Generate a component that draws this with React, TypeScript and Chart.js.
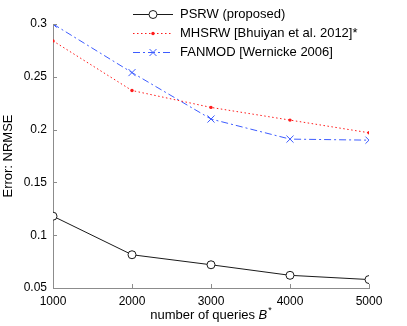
import React, { useEffect, useRef } from "react";
import { Chart, registerables } from "chart.js";
Chart.register(...registerables);

const queries = [1000, 2000, 3000, 4000, 5000];
const psrw = [0.118, 0.0815, 0.072, 0.062, 0.058];
const mhsrw = [0.284, 0.237, 0.221, 0.209, 0.197];
const fanmod = [0.3, 0.254, 0.21, 0.191, 0.19];
const seriesNames = ["PSRW (proposed)", "MHSRW [Bhuiyan et al. 2012]*", "FANMOD [Wernicke 2006]"];
const xTitleText = "number of queries ";
const xTitleVar = "B";
const xTitleSup = "*";
const yTitleText = "Error: NRMSE";

const FONT = "'Liberation Sans', Arial, Helvetica, sans-serif";
const AXIS_COLOR = "#8c8c8c";
const BLACK = "#1a1a1a";
const RED = "#ff1a1a";
const BLUE = "#3d5cff";

type Style = { color: string; dash: number[]; marker: string };
const styles: Style[] = [
  { color: BLACK, dash: [], marker: "circle" },
  { color: RED, dash: [1.5, 2.5], marker: "dot" },
  { color: BLUE, dash: [7, 3, 2, 3], marker: "x" },
];

function drawMarker(ctx: CanvasRenderingContext2D, m: string, x: number, y: number, color: string) {
  ctx.save();
  ctx.setLineDash([]);
  ctx.strokeStyle = color;
  ctx.fillStyle = color;
  ctx.lineWidth = 1;
  if (m === "circle") {
    ctx.beginPath();
    ctx.arc(x, y, 4, 0, Math.PI * 2);
    ctx.fillStyle = "#fff";
    ctx.fill();
    ctx.stroke();
  } else if (m === "dot") {
    ctx.beginPath();
    ctx.arc(x, y, 1.7, 0, Math.PI * 2);
    ctx.fill();
  } else {
    const s = 3.5;
    ctx.beginPath();
    ctx.moveTo(x - s, y - s);
    ctx.lineTo(x + s, y + s);
    ctx.moveTo(x + s, y - s);
    ctx.lineTo(x - s, y + s);
    ctx.stroke();
  }
  ctx.restore();
}

const overlay = {
  id: "overlay",
  afterDraw(chart: any) {
    const ctx: CanvasRenderingContext2D = chart.ctx;
    const { left, right, top, bottom } = chart.chartArea;
    const xs = chart.scales.x;
    const ys = chart.scales.y;
    ctx.save();
    // inward ticks
    ctx.strokeStyle = AXIS_COLOR;
    ctx.lineWidth = 1;
    ctx.beginPath();
    ys.ticks.forEach((t: any) => {
      const py = Math.round(ys.getPixelForValue(t.value)) + 0.5;
      ctx.moveTo(left, py);
      ctx.lineTo(left + 4, py);
    });
    xs.ticks.forEach((t: any) => {
      const px = Math.round(xs.getPixelForValue(t.value)) + 0.5;
      ctx.moveTo(px, bottom);
      ctx.lineTo(px, bottom - 4);
    });
    ctx.stroke();

    // legend
    const lx0 = left + 80;
    const lx1 = left + 120;
    const rowY = [top - 10, top + 9, top + 28];
    ctx.font = `13px ${FONT}`;
    ctx.textBaseline = "middle";
    ctx.textAlign = "left";
    styles.forEach((s, i) => {
      const y = rowY[i] + 0.5;
      ctx.save();
      ctx.strokeStyle = s.color;
      ctx.lineWidth = 1;
      ctx.setLineDash(s.dash);
      ctx.beginPath();
      ctx.moveTo(lx0, y);
      ctx.lineTo(lx1, y);
      ctx.stroke();
      ctx.restore();
      drawMarker(ctx, s.marker, (lx0 + lx1) / 2, y, s.color);
      ctx.fillStyle = "#000";
      ctx.fillText(seriesNames[i], lx1 + 7, y);
    });

    // x title
    ctx.fillStyle = "#000";
    ctx.textBaseline = "middle";
    const f1 = `13px ${FONT}`;
    const f2 = `italic 13px ${FONT}`;
    const f3 = `9px ${FONT}`;
    ctx.font = f1;
    const w1 = ctx.measureText(xTitleText).width;
    ctx.font = f2;
    const w2 = ctx.measureText(xTitleVar).width;
    ctx.font = f3;
    const w3 = ctx.measureText(xTitleSup).width;
    const total = w1 + w2 + w3 + 1;
    let x = (left + right) / 2 - total / 2;
    const ty = bottom + 27;
    ctx.font = f1;
    ctx.fillText(xTitleText, x, ty);
    x += w1;
    ctx.font = f2;
    ctx.fillText(xTitleVar, x, ty);
    x += w2 + 1;
    ctx.font = f3;
    ctx.fillText(xTitleSup, x, ty - 4);

    // y title
    ctx.save();
    ctx.translate(8, (top + bottom) / 2);
    ctx.rotate(-Math.PI / 2);
    ctx.font = `13px ${FONT}`;
    ctx.textAlign = "center";
    ctx.textBaseline = "middle";
    ctx.fillText(yTitleText, 0, 0);
    ctx.restore();

    ctx.restore();
  },
};

export default function App() {
  const ref = useRef<HTMLCanvasElement>(null);
  useEffect(() => {
    if (!ref.current) return;
    const mk = (vals: number[]) => queries.map((q, i) => ({ x: q, y: vals[i] }));
    const chart = new Chart(ref.current, {
      type: "line",
      data: {
        datasets: [
          {
            label: seriesNames[0],
            data: mk(psrw),
            borderColor: BLACK,
            borderWidth: 1,
            pointStyle: "circle",
            pointRadius: 4,
            pointBorderWidth: 1,
            pointBackgroundColor: "#fff",
            pointBorderColor: BLACK,
            tension: 0,
          },
          {
            label: seriesNames[1],
            data: mk(mhsrw),
            borderColor: RED,
            borderWidth: 1,
            borderDash: [1.5, 2.5],
            pointStyle: "circle",
            pointRadius: 1.7,
            pointBorderWidth: 0,
            pointBackgroundColor: RED,
            pointBorderColor: RED,
            tension: 0,
          },
          {
            label: seriesNames[2],
            data: mk(fanmod),
            borderColor: BLUE,
            borderWidth: 1,
            borderDash: [7, 3, 2, 3],
            pointStyle: "crossRot",
            pointRadius: 5,
            pointBorderWidth: 1,
            pointBorderColor: BLUE,
            pointBackgroundColor: BLUE,
            tension: 0,
          },
        ],
      },
      options: {
        responsive: false,
        animation: false,
        layout: { padding: { top: 24, right: 38, left: 0, bottom: 0 } },
        plugins: { legend: { display: false }, tooltip: { enabled: false } },
        scales: {
          x: {
            type: "linear",
            min: 1000,
            max: 5000,
            grid: { display: false, drawTicks: false },
            border: { display: true, color: AXIS_COLOR, width: 1 },
            ticks: {
              stepSize: 1000,
              color: "#000",
              font: { family: FONT, size: 12 },
              padding: 6,
              maxRotation: 0,
              callback: (v: any) => String(v),
            },
            afterFit: (s: any) => {
              s.height = 38;
            },
          },
          y: {
            type: "linear",
            min: 0.05,
            max: 0.3,
            grid: { display: false, drawTicks: false },
            border: { display: true, color: AXIS_COLOR, width: 1 },
            ticks: {
              stepSize: 0.05,
              color: "#000",
              font: { family: FONT, size: 12 },
              padding: 6,
              callback: (v: any) => String(Number(Number(v).toFixed(2))),
            },
            afterFit: (s: any) => {
              s.width = 53;
            },
          },
        },
      },
      plugins: [overlay],
    });
    return () => chart.destroy();
  }, []);
  return (
    <div style={{ position: "absolute", left: 0, top: 0, width: 407, height: 326, background: "#fff" }}>
      <canvas ref={ref} width={407} height={326} style={{ display: "block" }} />
    </div>
  );
}
